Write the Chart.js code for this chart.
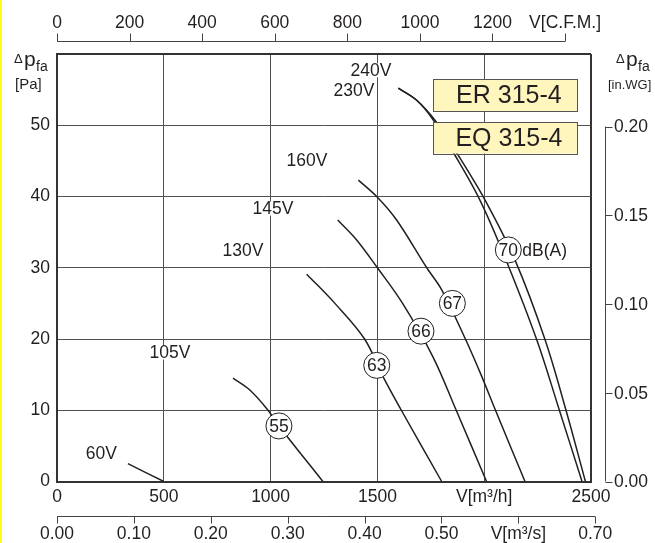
<!DOCTYPE html>
<html>
<head>
<meta charset="utf-8">
<script src="https://cdn.jsdelivr.net/npm/chart.js@4.4.1/dist/chart.umd.min.js"></script>
<style>
  html, body { margin: 0; padding: 0; background: #fff; }
  canvas { display: block; }
</style>
</head>
<body>
<canvas id="fan-chart" width="655" height="543"></canvas>
<script>
// Fan curves: flow V [m³/h], pressure Δp_fa [Pa]
const flow60 = [332, 500];
const pres60 = [2.5, 0];
const flow105 = [824, 904, 988, 1039, 1245];
const pres105 = [14.5, 12.8, 10, 7.8, 0];
const flow130 = [1169, 1301, 1440, 1530, 1612, 1801];
const pres130 = [29.1, 25, 20, 14.5, 10, 0];
const flow145 = [1314, 1400, 1500, 1618, 1760, 1869, 2011];
const pres145 = [36.7, 34, 30, 25, 17.5, 10, 0];
const flow160 = [1411, 1500, 1590, 1731, 1801, 1912, 1985, 2050, 2191];
const pres160 = [42.3, 39.9, 36.7, 30, 26.9, 20, 15, 10.2, 0];
const flow230 = [1598, 1684, 1760, 1859, 1980, 2102, 2246, 2352, 2458];
const pres230 = [55.2, 53.5, 50.8, 46, 39.5, 31.1, 19.9, 10, 0];
const flow240 = [1598, 1684, 1775, 1874, 2004, 2144, 2285, 2383, 2474];
const pres240 = [55.2, 53.5, 50.5, 46, 39.5, 31.1, 19.9, 10, 0];

// voltage labels
const voltLabels = ['60V', '105V', '130V', '145V', '160V', '240V', '230V'];
const voltFlow = [208, 529, 871, 1011, 1170, 1470, 1390];
const voltPres = [4.0, 18.1, 32.4, 38.3, 45.1, 57.7, 54.9];

// sound level markers dB(A)
const dbLabels = ['55', '63', '66', '67', '70'];
const dbFlow = [1039, 1497, 1704, 1851, 2113];
const dbPres = [7.8, 16.3, 21.1, 25.0, 32.5];

// model names
const models = ['ER 315-4', 'EQ 315-4'];

// main axes ticks
const flowTicks = [0, 500, 1000, 1500, 2000, 2500];
const presTicks = [0, 10, 20, 30, 40, 50];

// secondary axes
const cfmTicks = [0, 200, 400, 600, 800, 1000, 1200, 1400];
const cfmLabels = ['0', '200', '400', '600', '800', '1000', '1200', 'V[C.F.M.]'];
const m3sTicks = [0, 0.1, 0.2, 0.3, 0.4, 0.5, 0.6, 0.7];
const m3sLabels = ['0.00', '0.10', '0.20', '0.30', '0.40', '0.50', 'V[m³/s]', '0.70'];
const inwgTicks = [0, 0.05, 0.1, 0.15, 0.2];
const inwgLabels = ['0.00', '0.05', '0.10', '0.15', '0.20'];

const M3H_PER_CFM = 1.699;
const M3H_PER_M3S = 3600;
const PA_PER_INWG = 249.09;

const INK = '#231f20';
const GRID = '#505050';
const FONT = '"Liberation Sans", Arial, Helvetica, sans-serif';
const FS = 17.5;

const curves = [
  [flow60, pres60], [flow105, pres105], [flow130, pres130],
  [flow145, pres145], [flow160, pres160], [flow230, pres230], [flow240, pres240],
];

const font = (size) => `${size}px ${FONT}`;

// extra drawing: labels, markers, secondary axes
const decorations = {
  id: 'decorations',
  beforeDraw(chart) {
    const { ctx } = chart;
    ctx.save();
    ctx.fillStyle = '#fff';
    ctx.fillRect(0, 0, chart.width, chart.height);
    ctx.fillStyle = '#ffff1e';
    ctx.fillRect(0, 0, 2, chart.height);
    ctx.restore();
  },
  afterDatasetsDraw(chart) {
    const { ctx } = chart;
    const sx = chart.scales.x;
    const sy = chart.scales.y;
    ctx.save();

    // voltage labels, white backing hides the grid
    ctx.font = font(FS);
    ctx.textAlign = 'center';
    ctx.textBaseline = 'middle';
    voltLabels.forEach((t, i) => {
      const px = sx.getPixelForValue(voltFlow[i]);
      const py = sy.getPixelForValue(voltPres[i]);
      const w = ctx.measureText(t).width;
      ctx.fillStyle = '#fff';
      ctx.fillRect(px - w / 2 - 1, py - 7, w + 2, 14);
      ctx.fillStyle = INK;
      ctx.fillText(t, px, py + 1);
    });

    // dB(A) circles
    dbLabels.forEach((t, i) => {
      const px = sx.getPixelForValue(dbFlow[i]);
      const py = sy.getPixelForValue(dbPres[i]);
      ctx.beginPath();
      ctx.arc(px, py, 13, 0, Math.PI * 2);
      ctx.fillStyle = '#fff';
      ctx.fill();
      ctx.lineWidth = 1;
      ctx.strokeStyle = INK;
      ctx.stroke();
      ctx.fillStyle = INK;
      ctx.textAlign = 'center';
      ctx.fillText(t, px, py + 1);
      if (i === dbLabels.length - 1) {
        ctx.textAlign = 'left';
        ctx.fillText('dB(A)', px + 14, py + 1);
      }
    });

    // model boxes
    const boxTop = [56.45, 50.46];
    const boxBottom = [51.96, 46.03];
    models.forEach((t, i) => {
      const x0 = sx.getPixelForValue(1760);
      const x1 = sx.getPixelForValue(2434);
      const y0 = sy.getPixelForValue(boxTop[i]);
      const y1 = sy.getPixelForValue(boxBottom[i]);
      ctx.fillStyle = '#fff6bd';
      ctx.fillRect(x0, y0, x1 - x0, y1 - y0);
      ctx.lineWidth = 1;
      ctx.strokeStyle = '#555';
      ctx.strokeRect(Math.round(x0) + 0.5, Math.round(y0) + 0.5, Math.round(x1 - x0), Math.round(y1 - y0));
      ctx.fillStyle = INK;
      ctx.font = font(25);
      ctx.textAlign = 'center';
      ctx.fillText(t, (x0 + x1) / 2 + 4, (y0 + y1) / 2 + 1);
      ctx.font = font(FS);
    });
    ctx.restore();
  },
  afterDraw(chart) {
    const { ctx } = chart;
    const sx = chart.scales.x;
    const sy = chart.scales.y;
    ctx.save();
    ctx.strokeStyle = '#444';
    ctx.lineWidth = 1;
    ctx.fillStyle = INK;
    ctx.font = font(FS);
    ctx.textBaseline = 'middle';

    // top: C.F.M.
    const topY = 41.5;
    const cx = cfmTicks.map((v) => sx.getPixelForValue(v * M3H_PER_CFM));
    ctx.beginPath();
    ctx.moveTo(cx[0], topY);
    ctx.lineTo(cx[cx.length - 1], topY);
    cx.forEach((x) => {
      const xa = Math.round(x) + 0.5;
      ctx.moveTo(xa, topY);
      ctx.lineTo(xa, topY - 8);
    });
    ctx.stroke();
    ctx.textAlign = 'center';
    cfmLabels.forEach((t, i) => ctx.fillText(t, cx[i], 23));

    // bottom: m³/s
    const botY = 516.5;
    const mx = m3sTicks.map((v) => sx.getPixelForValue(v * M3H_PER_M3S));
    ctx.beginPath();
    ctx.moveTo(mx[0], botY);
    ctx.lineTo(mx[mx.length - 1], botY);
    mx.forEach((x) => {
      const xa = Math.round(x) + 0.5;
      ctx.moveTo(xa, botY);
      ctx.lineTo(xa, botY + 7);
    });
    ctx.stroke();
    m3sLabels.forEach((t, i) => ctx.fillText(t, mx[i], 534));

    // right: in.WG
    const rX = 605.5;
    const ry = inwgTicks.map((v) => sy.getPixelForValue(v * PA_PER_INWG));
    ctx.beginPath();
    ctx.moveTo(rX, ry[0]);
    ctx.lineTo(rX, ry[ry.length - 1]);
    ry.forEach((y) => {
      const ya = Math.round(y) + 0.5;
      ctx.moveTo(rX, ya);
      ctx.lineTo(rX + 7, ya);
    });
    ctx.stroke();
    ctx.textAlign = 'left';
    inwgLabels.forEach((t, i) => ctx.fillText(t, 614, ry[i] + 1));

    // axis titles Δp_fa
    ctx.textBaseline = 'alphabetic';
    const title = (x, unit, unitSize, unitX) => {
      ctx.font = font(13);
      ctx.fillText('Δ', x, 63);
      ctx.font = font(21);
      ctx.fillText('p', x + 10, 66);
      ctx.font = font(14);
      ctx.fillText('fa', x + 22, 71);
      ctx.font = font(unitSize);
      ctx.fillText(unit, unitX, 89);
    };
    title(14, '[Pa]', 15, 15);
    title(616, '[in.WG]', 13, 608);
    ctx.restore();
  },
};

const ctx = document.getElementById('fan-chart');

// eslint-disable-next-line no-unused-vars
const chart = new Chart(ctx, {
  type: 'line',
  data: {
    datasets: curves.map(([flow, pres]) => ({
      data: flow.map((q, i) => ({ x: q, y: pres[i] })),
      borderColor: INK,
      borderWidth: 1.5,
      pointRadius: 0,
      fill: false,
      tension: 0.35,
    })),
  },
  options: {
    responsive: false,
    animation: false,
    devicePixelRatio: 1,
    layout: {
      padding: { left: 0, right: 64, top: 54, bottom: 31.5 },
    },
    plugins: {
      legend: { display: false },
      tooltip: { enabled: false },
    },
    scales: {
      x: {
        type: 'linear',
        min: 0,
        max: 2500,
        afterFit(scale) { scale.height = 30; },
        afterBuildTicks(scale) { scale.ticks = flowTicks.map((v) => ({ value: v })); },
        ticks: {
          padding: 5,
          color: INK,
          font: { family: FONT, size: FS },
          maxRotation: 0,
          autoSkip: false,
          callback: (v) => (v === 2000 ? 'V[m³/h]' : String(v)),
        },
        grid: {
          drawTicks: false,
          color: (c) => (c.tick && c.tick.value === 2500 ? '#333' : GRID),
          lineWidth: (c) => (c.tick && c.tick.value === 2500 ? 2 : 1),
        },
        border: { color: '#333', width: 2 },
      },
      y: {
        min: 0,
        max: 60,
        afterFit(scale) { scale.width = 57; },
        afterBuildTicks(scale) { scale.ticks = presTicks.concat([60]).map((v) => ({ value: v })); },
        ticks: {
          padding: 7,
          color: INK,
          font: { family: FONT, size: FS },
          callback: (v) => (v === 60 ? '' : String(v)),
        },
        grid: {
          drawTicks: false,
          color: (c) => (c.tick && c.tick.value === 60 ? '#333' : GRID),
          lineWidth: (c) => (c.tick && c.tick.value === 60 ? 2 : 1),
        },
        border: { color: '#333', width: 2 },
      },
    },
  },
  plugins: [decorations],
});
</script>
</body>
</html>
